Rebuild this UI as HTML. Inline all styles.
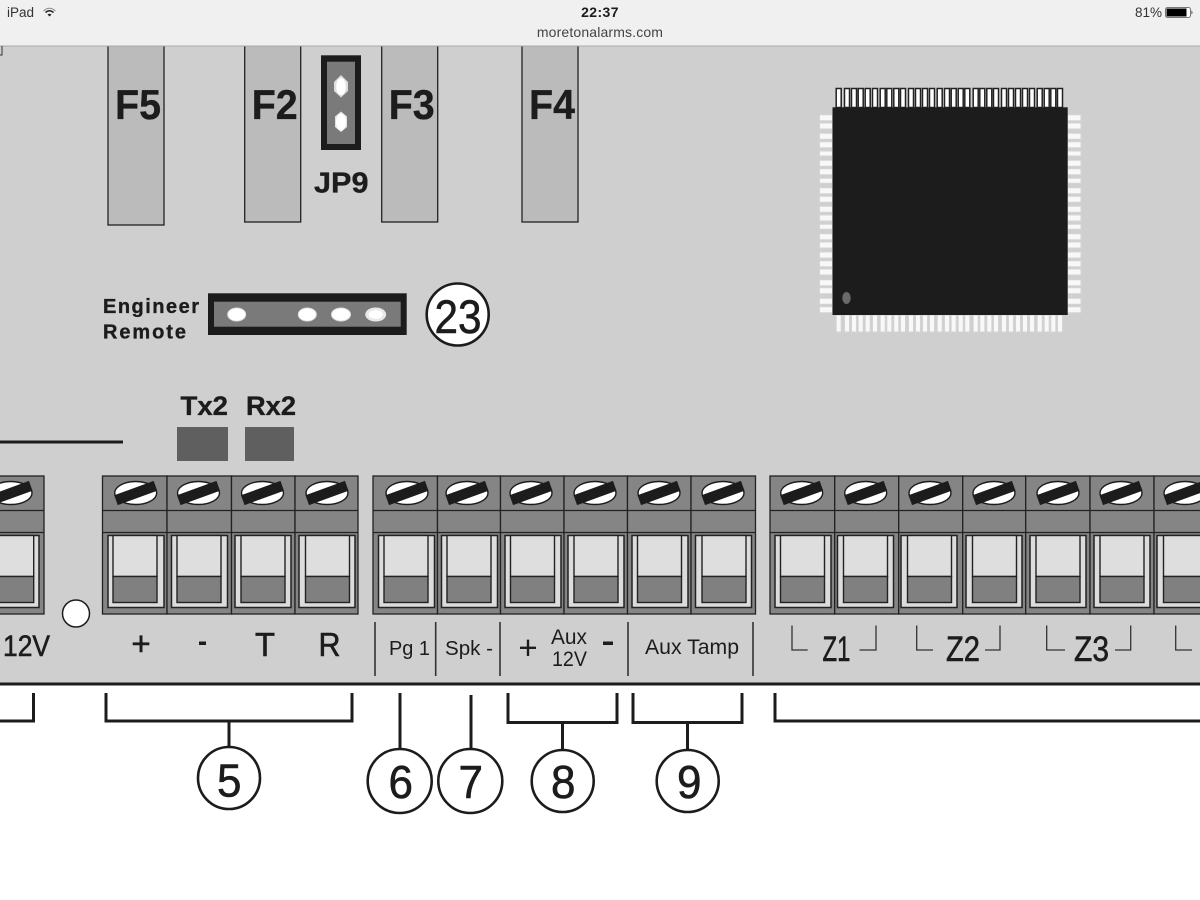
<!DOCTYPE html>
<html><head><meta charset="utf-8"><title>Terminal diagram</title>
<style>
html,body{margin:0;padding:0;background:#fff;width:1200px;height:900px;overflow:hidden}
svg{display:block}
text{font-family:"Liberation Sans",sans-serif;fill:#1c1c1c}
.b{font-weight:bold;stroke:#1c1c1c;stroke-width:.35}
.h{stroke:#1c1c1c;stroke-width:.6}
.c{fill:#858585;stroke:#222;stroke-width:1.3}
.br{fill:none;stroke:#1c1c1c;stroke-width:3}
.t{stroke:#333;stroke-width:1.6;fill:none}
.cir{fill:#fff;stroke:#1c1c1c;stroke-width:2.6}
.st{font-weight:bold;letter-spacing:.4px}
</style></head><body>
<svg width="1200" height="900" viewBox="0 0 1200 900" xmlns="http://www.w3.org/2000/svg">
<defs>
<g id="s"><ellipse cx="0" cy="0" rx="21" ry="11.500" fill="#fff" stroke="#1c1c1c" stroke-width="1.400"/><rect x="-21" y="-5.200" width="42" height="10.400" fill="#1c1c1c" transform="rotate(-20)"/></g>
<g id="f"><rect x="0" y="535.500" width="56" height="72" fill="#dcdcdc" stroke="#222" stroke-width="1.500"/></g>
<g id="i"><rect x="0" y="535.500" width="44" height="41" fill="#dedede" stroke="#222" stroke-width="1.400"/><rect x="0" y="576.500" width="44" height="26" fill="#808080" stroke="#222" stroke-width="1.400"/></g>
</defs>
<rect x="0" y="0" width="1200" height="900" fill="#fff"/>
<rect x="0" y="46" width="1200" height="638" fill="#cfcfcf"/>

<!-- fuses -->
<rect x="108" y="40" width="56" height="185" fill="#bbb" stroke="#222" stroke-width="1.300"/>
<rect x="244.700" y="40" width="56" height="182" fill="#bbb" stroke="#222" stroke-width="1.300"/>
<rect x="381.700" y="40" width="56" height="182" fill="#bbb" stroke="#222" stroke-width="1.300"/>
<rect x="522" y="40" width="56" height="182" fill="#bbb" stroke="#222" stroke-width="1.300"/>

<!-- status bar -->
<rect x="0" y="0" width="1200" height="45.500" fill="#f0f0f0"/>
<rect x="0" y="45.500" width="1200" height="1" fill="#aaa"/>
<text x="7" y="17" font-size="13.500" style="fill:#333">iPad</text>
<path d="M43.500 11 Q49.500 5.500 55.500 11" fill="none" stroke="#888" stroke-width="1"/>
<path d="M45.500 12.500 Q49.500 9 53.500 12.500" fill="none" stroke="#222" stroke-width="1.500"/>
<path d="M47.500 14.500 L49.500 16.500 L51.500 14.500 Q49.500 13 47.500 14.500z" fill="#222"/>
<text x="600" y="17" font-size="14" text-anchor="middle" class="st">22:37</text>
<text x="600" y="37" font-size="14" text-anchor="middle" style="fill:#444" letter-spacing=".15">moretonalarms.com</text>
<text x="1135" y="17" font-size="13.500" style="fill:#333">81%</text>
<rect x="1165.500" y="7.500" width="25" height="10" rx="2" fill="#fff" stroke="#777"/>
<rect x="1166.500" y="8.500" width="20" height="8" fill="#000"/>
<path d="M1191.500 10.500 q2 2 0 4z" fill="#333"/>
<path d="M2 46v9h-3" fill="none" stroke="#333" stroke-width="1"/>

<text x="115" y="119" font-size="42" class="b" textLength="46" lengthAdjust="spacingAndGlyphs">F5</text>
<text x="251.700" y="119" font-size="42" class="b" textLength="46" lengthAdjust="spacingAndGlyphs">F2</text>
<text x="388.700" y="119" font-size="42" class="b" textLength="46" lengthAdjust="spacingAndGlyphs">F3</text>
<text x="529" y="119" font-size="42" class="b" textLength="46" lengthAdjust="spacingAndGlyphs">F4</text>

<!-- JP9 -->
<rect x="321" y="55.300" width="40" height="94.700" fill="#1c1c1c"/>
<rect x="327" y="61.700" width="28" height="82.300" fill="#7a7a7a"/>
<polygon points="341,75 348,82 348,91 341,97.500 334,91 334,82" fill="#ddd"/><ellipse cx="341" cy="86.500" rx="4.800" ry="8.500" fill="#fff"/>
<polygon points="341,111.500 347,116.500 347,127 341,132 335,127 335,116.500" fill="#e4e4e4"/><ellipse cx="341" cy="122" rx="5" ry="8.500" fill="#fff"/>
<text x="314" y="192.700" font-size="29" class="b" textLength="54.500" lengthAdjust="spacingAndGlyphs">JP9</text>

<!-- Engineer header -->
<text x="103" y="313" font-size="20" class="b" textLength="96">Engineer</text>
<text x="103" y="338.500" font-size="20" class="b" textLength="83">Remote</text>
<rect x="208" y="293.300" width="198.700" height="41.700" fill="#1c1c1c"/>
<rect x="214" y="301.700" width="186.700" height="25" fill="#7a7a7a"/>
<ellipse cx="236.700" cy="314.500" rx="9" ry="6.500" fill="#fff" stroke="#ddd"/>
<ellipse cx="307.300" cy="314.500" rx="9" ry="6.500" fill="#fff" stroke="#ddd"/>
<ellipse cx="341" cy="314.500" rx="9.500" ry="6.500" fill="#fff" stroke="#ddd"/>
<ellipse cx="375.700" cy="314.500" rx="10.500" ry="7" fill="#e8e8e8"/><ellipse cx="375.700" cy="314.500" rx="7" ry="4.500" fill="#fff"/>
<circle cx="457.700" cy="314.500" r="31" class="cir"/>
<text x="434.500" y="333" font-size="47" textLength="47" lengthAdjust="spacingAndGlyphs" class="h">23</text>

<!-- chip -->
<path fill="#f8f8f8" stroke="#d4d4d4" stroke-width="1" d="M819.500 114.700h13v6h-13zM819.500 123h13v6h-13zM819.500 133.300h13v6h-13zM819.500 141.700h13v6h-13zM819.500 151h13v5h-13zM819.500 160.300h13v6h-13zM819.500 168.700h13v6h-13zM819.500 178.300h13v5h-13zM819.500 187.700h13v6h-13zM819.500 196.300h13v6h-13zM819.500 206.300h13v6h-13zM819.500 215h13v6h-13zM819.500 224.300h13v5h-13zM819.500 233.700h13v6h-13zM819.500 242h13v6h-13zM819.500 252h13v6h-13zM819.500 260.700h13v6h-13zM819.500 269h13v6h-13zM819.500 279.700h13v6h-13zM819.500 287.700h13v6h-13zM819.500 298.300h13v6h-13zM819.500 306.700h13v6h-13z"/>
<path fill="#f8f8f8" stroke="#d4d4d4" stroke-width="1" d="M1067.500 114.700h13.500v6h-13.500zM1067.500 123h13.500v6h-13.500zM1067.500 133.300h13.500v6h-13.500zM1067.500 141.700h13.500v6h-13.500zM1067.500 151h13.500v5h-13.500zM1067.500 160.300h13.500v6h-13.500zM1067.500 168.700h13.500v6h-13.500zM1067.500 178.300h13.500v5h-13.500zM1067.500 187.700h13.500v6h-13.500zM1067.500 196.300h13.500v6h-13.500zM1067.500 206.300h13.500v6h-13.500zM1067.500 215h13.500v6h-13.500zM1067.500 224.300h13.500v5h-13.500zM1067.500 233.700h13.500v6h-13.500zM1067.500 242h13.500v6h-13.500zM1067.500 252h13.500v6h-13.500zM1067.500 260.700h13.500v6h-13.500zM1067.500 269h13.500v6h-13.500zM1067.500 279.700h13.500v6h-13.500zM1067.500 287.700h13.500v6h-13.500zM1067.500 298.300h13.500v6h-13.500zM1067.500 306.700h13.500v6h-13.500z"/>
<path fill="#fff" stroke="#222" stroke-width="1.500" d="M836.200 88.500h5v19h-5zM844.500 88.500h5v19h-5zM851.500 88.500h5v19h-5zM858.200 88.500h5v19h-5zM865.200 88.500h5v19h-5zM872.500 88.500h5v19h-5zM880.200 88.500h5v19h-5zM886.800 88.500h5v19h-5zM893.800 88.500h5v19h-5zM900.500 88.500h5v19h-5zM908.500 88.500h5v19h-5zM915.500 88.500h5v19h-5zM922.500 88.500h5v19h-5zM929.500 88.500h5v19h-5zM937.200 88.500h5v19h-5zM944.500 88.500h5v19h-5zM951.200 88.500h5v19h-5zM958.200 88.500h5v19h-5zM964.800 88.500h5v19h-5zM973.200 88.500h5v19h-5zM979.800 88.500h5v19h-5zM986.800 88.500h5v19h-5zM993.500 88.500h5v19h-5zM1001.500 88.500h5v19h-5zM1008.500 88.500h5v19h-5zM1015.500 88.500h5v19h-5zM1022.500 88.500h5v19h-5zM1029.500 88.500h5v19h-5zM1037.200 88.500h5v19h-5zM1044.200 88.500h5v19h-5zM1050.800 88.500h5v19h-5zM1057.500 88.500h5v19h-5z"/>
<path fill="#f8f8f8" stroke="#d4d4d4" stroke-width="1" d="M836.200 315h5v17h-5zM844.500 315h5v17h-5zM851.500 315h5v17h-5zM858.200 315h5v17h-5zM865.200 315h5v17h-5zM872.500 315h5v17h-5zM880.200 315h5v17h-5zM886.800 315h5v17h-5zM893.800 315h5v17h-5zM900.500 315h5v17h-5zM908.500 315h5v17h-5zM915.500 315h5v17h-5zM922.500 315h5v17h-5zM929.500 315h5v17h-5zM937.200 315h5v17h-5zM944.500 315h5v17h-5zM951.200 315h5v17h-5zM958.200 315h5v17h-5zM964.800 315h5v17h-5zM973.200 315h5v17h-5zM979.800 315h5v17h-5zM986.800 315h5v17h-5zM993.500 315h5v17h-5zM1001.500 315h5v17h-5zM1008.500 315h5v17h-5zM1015.500 315h5v17h-5zM1022.500 315h5v17h-5zM1029.500 315h5v17h-5zM1037.200 315h5v17h-5zM1044.200 315h5v17h-5zM1050.800 315h5v17h-5zM1057.500 315h5v17h-5z"/>
<rect x="832.500" y="107.300" width="235.200" height="207.700" fill="#1c1c1c"/>
<ellipse cx="846.500" cy="298" rx="4.200" ry="6" fill="#6a6a6a"/>

<!-- Tx/Rx -->
<text x="180.500" y="415" font-size="26.500" class="b" textLength="47.500" lengthAdjust="spacingAndGlyphs">Tx2</text>
<text x="246" y="415" font-size="26.500" class="b" textLength="50" lengthAdjust="spacingAndGlyphs">Rx2</text>
<rect x="177" y="427" width="51" height="34" fill="#5f5f5f"/>
<rect x="245" y="427" width="49" height="34" fill="#5f5f5f"/>
<rect x="0" y="440.500" width="123" height="3" fill="#1c1c1c"/>

<!-- block 1 -->
<rect x="-10" y="476" width="54" height="138" class="c"/>
<use href="#s" x="11" y="493"/>
<use href="#f" x="-17"/><use href="#i" x="-10.300"/>
<!-- block 2 -->
<rect x="102.500" y="476" width="64.500" height="138" class="c"/>
<rect x="167" y="476" width="64.500" height="138" class="c"/>
<rect x="231.500" y="476" width="63.500" height="138" class="c"/>
<rect x="295" y="476" width="63" height="138" class="c"/>
<use href="#s" x="135.700" y="493"/><use href="#s" x="198.500" y="493"/><use href="#s" x="262.500" y="493"/><use href="#s" x="327" y="493"/>
<use href="#f" x="108"/><use href="#i" x="113"/>
<use href="#f" x="171.500"/><use href="#i" x="177"/>
<use href="#f" x="235"/><use href="#i" x="241"/>
<use href="#f" x="299"/><use href="#i" x="305.500"/>
<!-- block 3 -->
<rect x="373" y="476" width="64.500" height="138" class="c"/>
<rect x="437.500" y="476" width="63" height="138" class="c"/>
<rect x="500.500" y="476" width="63.500" height="138" class="c"/>
<rect x="564" y="476" width="63.500" height="138" class="c"/>
<rect x="627.500" y="476" width="63.500" height="138" class="c"/>
<rect x="691" y="476" width="64.500" height="138" class="c"/>
<use href="#s" x="407" y="493"/><use href="#s" x="467" y="493"/><use href="#s" x="531" y="493"/><use href="#s" x="595" y="493"/><use href="#s" x="659" y="493"/><use href="#s" x="723" y="493"/>
<use href="#f" x="378.500"/><use href="#i" x="384"/>
<use href="#f" x="441.500"/><use href="#i" x="447"/>
<use href="#f" x="505"/><use href="#i" x="510.500"/>
<use href="#f" x="568"/><use href="#i" x="574"/>
<use href="#f" x="632"/><use href="#i" x="637.500"/>
<use href="#f" x="695.500"/><use href="#i" x="702"/>
<!-- block 4 -->
<rect x="770" y="476" width="64.700" height="138" class="c"/>
<rect x="834.700" y="476" width="64" height="138" class="c"/>
<rect x="898.700" y="476" width="64" height="138" class="c"/>
<rect x="962.700" y="476" width="63" height="138" class="c"/>
<rect x="1025.700" y="476" width="64.300" height="138" class="c"/>
<rect x="1090" y="476" width="64" height="138" class="c"/>
<rect x="1154" y="476" width="70" height="138" class="c"/>
<use href="#s" x="801.700" y="493"/><use href="#s" x="865.700" y="493"/><use href="#s" x="930" y="493"/><use href="#s" x="994" y="493"/><use href="#s" x="1058" y="493"/><use href="#s" x="1121" y="493"/><use href="#s" x="1185" y="493"/>
<use href="#f" x="775"/><use href="#i" x="780.500"/>
<use href="#f" x="837.500"/><use href="#i" x="843.500"/>
<use href="#f" x="901"/><use href="#i" x="907.500"/>
<use href="#f" x="966"/><use href="#i" x="972.500"/>
<use href="#f" x="1030"/><use href="#i" x="1036"/>
<use href="#f" x="1094"/><use href="#i" x="1100"/>
<use href="#f" x="1157"/><use href="#i" x="1163.500"/>
<!-- row lines -->
<path d="M-10 510.500H44M102.500 510.500H358M373 510.500H755.500M770 510.500H1200M-10 532.500H44M102.500 532.500H358M373 532.500H755.500M770 532.500H1200" stroke="#222" stroke-width="1.300" fill="none"/>

<circle cx="76" cy="613.500" r="13.500" fill="#fff" stroke="#1c1c1c" stroke-width="1.500"/>

<!-- labels -->
<text x="3" y="656" font-size="30" textLength="47" lengthAdjust="spacingAndGlyphs" class="h">12V</text>
<text x="141" y="655" font-size="33" text-anchor="middle" class="h">+</text>
<rect x="199" y="641.500" width="7" height="3.500" fill="#1c1c1c"/>
<text x="255" y="656" font-size="33" textLength="20" lengthAdjust="spacingAndGlyphs" class="h">T</text>
<text x="318.500" y="656" font-size="33" textLength="22" lengthAdjust="spacingAndGlyphs" class="h">R</text>
<path class="t" d="M375 622V676M435.700 622V676M500 622V676M628 622V676M753 622V676"/>
<text x="389" y="655" font-size="20" textLength="41" lengthAdjust="spacingAndGlyphs">Pg 1</text>
<text x="445" y="655" font-size="20" textLength="48" lengthAdjust="spacingAndGlyphs">Spk -</text>
<text x="528" y="659" font-size="33" text-anchor="middle">+</text>
<text x="551" y="644" font-size="21" textLength="36" lengthAdjust="spacingAndGlyphs">Aux</text>
<text x="552" y="666" font-size="21" textLength="35" lengthAdjust="spacingAndGlyphs">12V</text>
<rect x="603" y="641.500" width="10" height="3.500" fill="#1c1c1c"/>
<text x="645" y="654" font-size="21" textLength="94" lengthAdjust="spacingAndGlyphs">Aux Tamp</text>

<path class="t" style="stroke-width:1.300" d="M792 625.500V650H807.700M876 625.500V650H859.500M916.700 625.500V650H933M1000 625.500V650H985M1046.700 625.500V650H1065M1130.700 625.500V650H1115M1175.700 625.500V650H1192"/>
<text x="822.500" y="661" font-size="35" textLength="28" lengthAdjust="spacingAndGlyphs" class="h">Z1</text>
<text x="946" y="661" font-size="35" textLength="34" lengthAdjust="spacingAndGlyphs" class="h">Z2</text>
<text x="1074" y="661" font-size="35" textLength="35" lengthAdjust="spacingAndGlyphs" class="h">Z3</text>

<!-- base line -->
<rect x="0" y="682.500" width="1200" height="3" fill="#1c1c1c"/>

<!-- brackets -->
<path class="br" d="M33.500 693V721H0M106 693V721H352V693M229 721V748M400 693V750M471 695V750M508 693V722.500H617V693M562.500 722.500V750M633 693V722.500H742V693M687.500 722.500V750M775 693V721H1200"/>
<circle cx="229" cy="778" r="31" class="cir"/>
<circle cx="399.700" cy="781" r="32" class="cir"/>
<circle cx="470.300" cy="781" r="32" class="cir"/>
<circle cx="562.700" cy="781" r="31" class="cir"/>
<circle cx="687.700" cy="781" r="31" class="cir"/>
<text x="217" y="796.500" font-size="46" textLength="24.500" lengthAdjust="spacingAndGlyphs" class="h">5</text>
<text x="388.500" y="798" font-size="46" textLength="24.500" lengthAdjust="spacingAndGlyphs" class="h">6</text>
<text x="458.500" y="798" font-size="46" textLength="24.500" lengthAdjust="spacingAndGlyphs" class="h">7</text>
<text x="551" y="798" font-size="46" textLength="24.500" lengthAdjust="spacingAndGlyphs" class="h">8</text>
<text x="677" y="798" font-size="46" textLength="24.500" lengthAdjust="spacingAndGlyphs" class="h">9</text>
</svg>
</body></html>
